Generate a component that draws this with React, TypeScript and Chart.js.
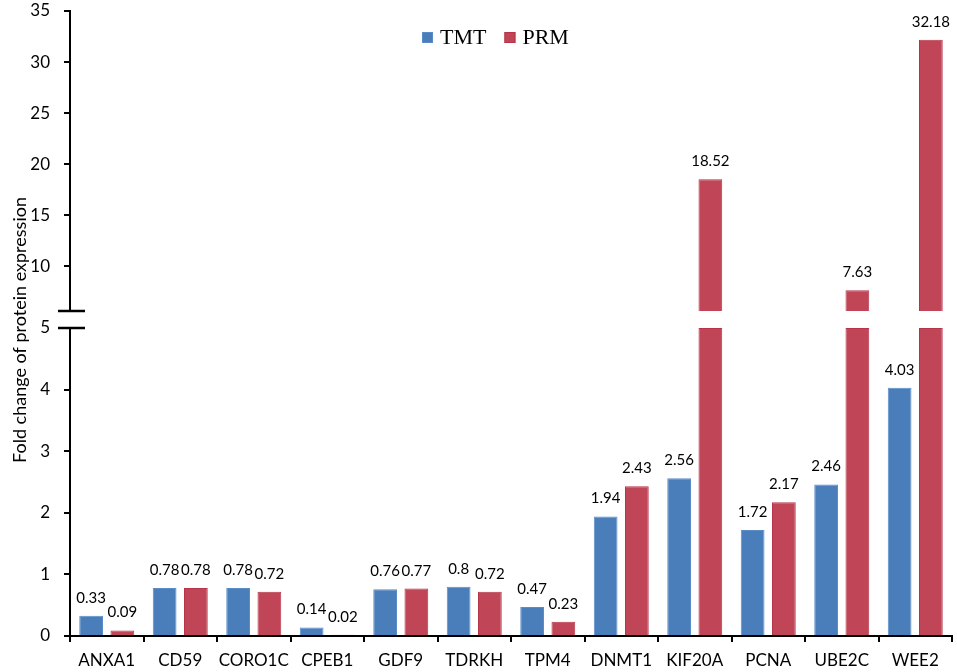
import React, { useEffect, useRef } from "react";
import { Chart, registerables } from "chart.js";

Chart.register(...registerables);

const genes = ["ANXA1", "CD59", "CORO1C", "CPEB1", "GDF9", "TDRKH", "TPM4", "DNMT1", "KIF20A", "PCNA", "UBE2C", "WEE2"];
const tmtValues = [0.33, 0.78, 0.78, 0.14, 0.76, 0.8, 0.47, 1.94, 2.56, 1.72, 2.46, 4.03];
const prmValues = [0.09, 0.78, 0.72, 0.02, 0.77, 0.72, 0.23, 2.43, 18.52, 2.17, 7.63, 32.18];
const lowTicks = [0, 1, 2, 3, 4, 5];
const highTicks = [10, 15, 20, 25, 30, 35];

// broken axis: lower part 0..5, upper part from just above the break to 35
const LOW_MAX = 5;
const HIGH_MIN = 5.6;
const HIGH_MAX = 35;

const BLUE = "#4A7EBB";
const BLUE_EDGE = "#5A8DC8";
const RED = "#C04657";
const RED_EDGE = "#B63548";
const SANS = "Lato";

const lowPart = (vals: number[]) => vals.map((v) => Math.min(v, LOW_MAX));
const highPart = (vals: number[]) => vals.map((v) => (v > LOW_MAX ? v : null));

const valueLabels = {
  id: "valueLabels",
  afterDatasetsDraw(chart: any) {
    const ctx = chart.ctx;
    ctx.save();
    ctx.font = `15px ${SANS}`;
    ctx.fillStyle = "#000";
    ctx.textAlign = "center";
    ctx.textBaseline = "alphabetic";
    chart.data.datasets.forEach((ds: any, i: number) => {
      const meta = chart.getDatasetMeta(i);
      meta.data.forEach((bar: any, j: number) => {
        if (ds.data[j] == null) return;
        if (ds.part === "low" && ds.source[j] > LOW_MAX) return;
        ctx.fillText(String(ds.source[j]), bar.x, bar.y - 13);
      });
    });
    ctx.restore();
  },
};

const breakMarks = {
  id: "breakMarks",
  afterDraw(chart: any) {
    const { ctx } = chart;
    const hi = chart.scales.yHigh;
    const lo = chart.scales.yLow;
    const x = lo.right;
    ctx.save();
    ctx.strokeStyle = "#000";
    ctx.lineWidth = 2.5;
    [hi.bottom, lo.top].forEach((y: number) => {
      ctx.beginPath();
      ctx.moveTo(x - 12, y);
      ctx.lineTo(x + 15, y);
      ctx.stroke();
    });
    ctx.restore();
  },
};

const yTitle = {
  id: "yTitle",
  afterDraw(chart: any) {
    const { ctx } = chart;
    ctx.save();
    ctx.translate(20, 330);
    ctx.rotate(-Math.PI / 2);
    ctx.font = `18px ${SANS}`;
    ctx.fillStyle = "#000";
    ctx.textAlign = "center";
    ctx.textBaseline = "middle";
    ctx.fillText("Fold change of protein expression", 0, 0);
    ctx.restore();
  },
};

const topLegend = {
  id: "topLegend",
  afterDraw(chart: any) {
    const { ctx } = chart;
    const items = [
      { text: "TMT", color: BLUE, edge: BLUE_EDGE },
      { text: "PRM", color: RED, edge: RED_EDGE },
    ];
    ctx.save();
    ctx.font = `22px "Liberation Serif"`;
    ctx.textBaseline = "alphabetic";
    let x = 422;
    items.forEach((it) => {
      ctx.fillStyle = it.color;
      ctx.fillRect(x, 32, 11, 11);
      ctx.strokeStyle = it.edge;
      ctx.lineWidth = 1;
      ctx.strokeRect(x + 0.5, 32.5, 10, 10);
      ctx.fillStyle = "#000";
      ctx.fillText(it.text, x + 18, 44);
      x += 18 + ctx.measureText(it.text).width + 18;
    });
    ctx.restore();
  },
};

const axisColor = "#000";

function yScale(extra: any) {
  return {
    type: "linear",
    position: "left",
    stack: "fold",
    grid: { drawOnChartArea: false, drawTicks: true, tickLength: 6, color: axisColor, lineWidth: 2 },
    border: { display: true, color: axisColor, width: 2 },
    ticks: { color: "#000", font: { family: SANS, size: 17 }, padding: 14 },
    afterFit: (s: any) => {
      s.width = 70;
      // keep the label padding from pushing the plot area down
      s.paddingTop = 11;
      s.paddingBottom = 0;
    },
    ...extra,
  };
}

export default function App() {
  const canvasRef = useRef<HTMLCanvasElement | null>(null);

  useEffect(() => {
    if (!canvasRef.current) return;
    const ctx = canvasRef.current.getContext("2d");
    if (!ctx) return;

    const common = { categoryPercentage: 0.85, barPercentage: 0.76, borderWidth: 1 };

    const chart = new Chart(ctx, {
      type: "bar",
      data: {
        labels: genes,
        datasets: [
          { label: "TMT", data: highPart(tmtValues), source: tmtValues, part: "high", yAxisID: "yHigh", stack: "TMT", base: HIGH_MIN, backgroundColor: BLUE, borderColor: BLUE_EDGE, ...common },
          { label: "PRM", data: highPart(prmValues), source: prmValues, part: "high", yAxisID: "yHigh", stack: "PRM", base: HIGH_MIN, backgroundColor: RED, borderColor: RED_EDGE, ...common },
          { label: "TMT", data: lowPart(tmtValues), source: tmtValues, part: "low", yAxisID: "yLow", stack: "TMT", backgroundColor: BLUE, borderColor: BLUE_EDGE, ...common },
          { label: "PRM", data: lowPart(prmValues), source: prmValues, part: "low", yAxisID: "yLow", stack: "PRM", backgroundColor: RED, borderColor: RED_EDGE, ...common },
        ] as any,
      },
      options: {
        animation: false,
        responsive: true,
        maintainAspectRatio: false,
        layout: { padding: { top: 0, right: 5, left: 0, bottom: 0 } },
        plugins: {
          legend: { display: false },
          tooltip: { enabled: false },
        },
        scales: {
          x: {
            type: "category",
            grid: { display: true, offset: true, drawOnChartArea: false, drawTicks: true, tickLength: 6, color: axisColor, lineWidth: 2 },
            border: { display: true, color: axisColor, width: 2 },
            ticks: { color: "#000", font: { family: SANS, size: 17 }, padding: 8, maxRotation: 0, autoSkip: false },
            afterFit: (s: any) => {
              s.height = 36;
            },
          },
          // stacked scales are laid out bottom-up in definition order
          yLow: yScale({
            stackWeight: 308,
            min: 0,
            max: LOW_MAX,
            afterBuildTicks: (s: any) => {
              s.ticks = lowTicks.map((v) => ({ value: v }));
            },
          }),
          yGap: yScale({
            stackWeight: 17,
            min: 0,
            max: 1,
            grid: { display: false },
            border: { display: false },
            ticks: { display: false },
          }),
          yHigh: yScale({
            stackWeight: 300,
            min: HIGH_MIN,
            max: HIGH_MAX,
            afterBuildTicks: (s: any) => {
              s.ticks = highTicks.map((v) => ({ value: v }));
            },
          }),
        } as any,
      },
      plugins: [valueLabels, breakMarks, yTitle, topLegend],
    });

    return () => {
      chart.destroy();
    };
  }, []);

  return (
    <div style={{ position: "absolute", left: 0, top: 0, width: 957, height: 672, background: "#fff" }}>
      <canvas ref={canvasRef} />
    </div>
  );
}
